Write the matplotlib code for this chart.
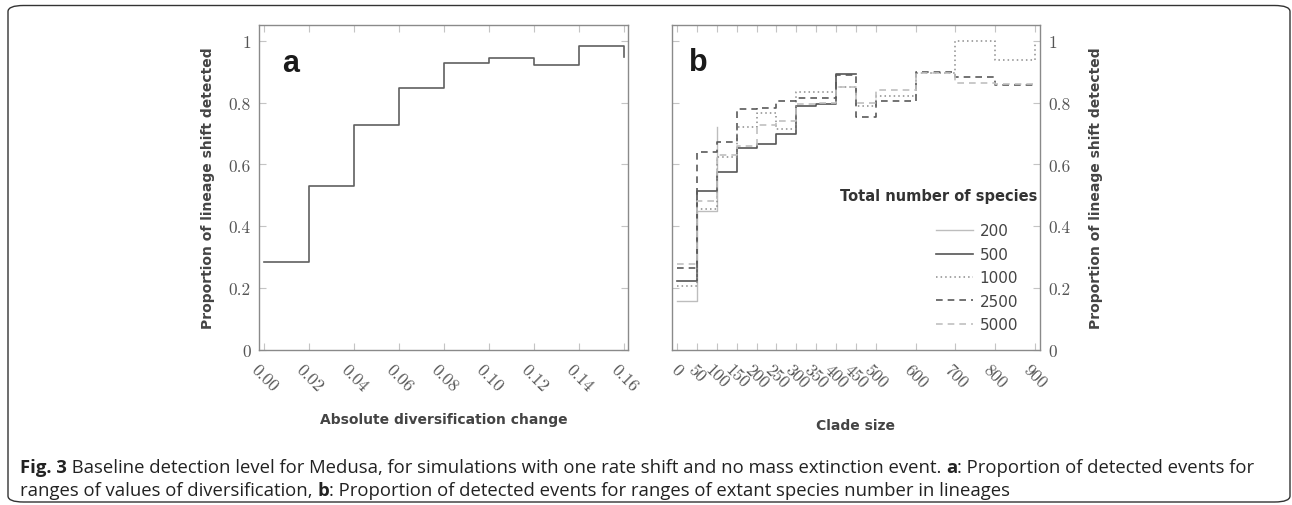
import matplotlib
matplotlib.use("Agg")
import matplotlib.pyplot as plt
from matplotlib.lines import Line2D
from matplotlib.patches import FancyBboxPatch

# panel a: detection vs absolute diversification change
diversification = [0.00, 0.02, 0.04, 0.06, 0.08, 0.10, 0.12, 0.14, 0.16]
detected_a = [0.283, 0.529, 0.728, 0.847, 0.929, 0.944, 0.922, 0.984, 0.948]
div_ticks = [0.00, 0.02, 0.04, 0.06, 0.08, 0.10, 0.12, 0.14, 0.16]
div_labels = ["0.00", "0.02", "0.04", "0.06", "0.08", "0.10", "0.12", "0.14", "0.16"]

# panel b: detection vs clade size, one series per total number of species
clade_edges = [0, 50, 100, 150, 200, 250, 300, 350, 400, 450, 500, 600, 700, 800, 900]
clade_labels = ["0", "50", "100", "150", "200", "250", "300", "350", "400", "450",
                "500", "600", "700", "800", "900"]
species_totals = ["200", "500", "1000", "2500", "5000"]
detected_200 = [0.157, 0.449, 0.72]
detected_500 = [0.223, 0.514, 0.577, 0.652, 0.667, 0.697, 0.790, 0.795, 0.892, 0.892]
detected_1000 = [0.206, 0.456, 0.623, 0.720, 0.766, 0.714, 0.833, 0.833, 0.849, 0.790,
                 0.822, 0.896, 1.000, 0.939, 0.990]
detected_2500 = [0.264, 0.641, 0.673, 0.780, 0.784, 0.806, 0.815, 0.815, 0.889, 0.752,
                 0.806, 0.898, 0.884, 0.858, 0.858]
detected_5000 = [0.278, 0.483, 0.630, 0.660, 0.727, 0.741, 0.795, 0.800, 0.850, 0.800,
                 0.842, 0.895, 0.865, 0.860, 0.860]

y_ticks = [0, 0.2, 0.4, 0.6, 0.8, 1.0]
y_labels = ["0", "0.2", "0.4", "0.6", "0.8", "1"]

W, H = 1292, 506
fig = plt.figure(figsize=(W / 100, H / 100), dpi=100)

def px_axes(x0, x1, y0, y1):
    return fig.add_axes([x0 / W, 1 - y1 / H, (x1 - x0) / W, (y1 - y0) / H])

tick_font = dict(family="cmr10", size=12.5, color="#555555")
label_font = dict(family="DejaVu Sans", weight="bold", size=10, color="#444444")

def style_axes(ax):
    for s in ax.spines.values():
        s.set_color("#8a8a8a")
        s.set_linewidth(1.0)
    ax.tick_params(direction="in", length=5, width=0.8, color="#c4c4c4",
                   top=True, bottom=True, left=True, right=True)
    ax.set_ylim(0, 1.052)
    ax.set_yticks(y_ticks)

# ---- panel a ----
ax_a = px_axes(259.3, 628, 25.7, 351)
style_axes(ax_a)
ax_a.step(diversification, detected_a, where="post", color="#606060", lw=1.2)
ax_a.set_xlim(-0.0022, 0.1617)
ax_a.set_xticks(div_ticks)
ax_a.set_xticklabels(div_labels, rotation=-45, ha="center", va="top", **tick_font)
ax_a.set_yticklabels(y_labels, **tick_font)
ax_a.tick_params(axis="x", pad=8)
ax_a.tick_params(axis="y", pad=6)
ax_a.set_xlabel("Absolute diversification change", labelpad=13, **label_font)
ax_a.set_ylabel("Proportion of lineage shift detected", labelpad=10, **label_font)
ax_a.text(0.086, 0.882, "a", transform=ax_a.transAxes, ha="center", va="center",
          family="Liberation Sans", weight="bold", size=22, color="#1a1a1a")

# ---- panel b ----
ax_b = px_axes(671.7, 1040, 25.7, 351)
style_axes(ax_b)
series = [detected_200, detected_500, detected_1000, detected_2500, detected_5000]
styles = [
    dict(color="#bdbdbd", lw=1.0, ls="-"),
    dict(color="#555555", lw=1.2, ls="-"),
    dict(color="#8c8c8c", lw=1.1, ls=(0, (1, 2))),
    dict(color="#5a5a5a", lw=1.2, ls=(0, (4, 3))),
    dict(color="#c0c0c0", lw=1.2, ls=(0, (4, 3))),
]
handles = []
for name, vals, st in zip(species_totals, series, styles):
    ax_b.step(clade_edges[:len(vals)], vals, where="post", **st)
    handles.append(Line2D([], [], **st, label=name))
ax_b.set_xlim(-13.3, 912.6)
ax_b.set_xticks(clade_edges)
ax_b.set_xticklabels(clade_labels, rotation=-45, ha="center", va="top", **tick_font)
ax_b.tick_params(labelleft=False, labelright=True)
ax_b.set_yticklabels(y_labels, **tick_font)
ax_b.tick_params(axis="x", pad=8)
ax_b.tick_params(axis="y", pad=6)
ax_b.yaxis.set_label_position("right")
ax_b.set_xlabel("Clade size", labelpad=20, **label_font)
ax_b.set_ylabel("Proportion of lineage shift detected", labelpad=13, rotation=90, **label_font)
ax_b.text(0.071, 0.885, "b", transform=ax_b.transAxes, ha="center", va="center",
          family="Liberation Sans", weight="bold", size=22, color="#1a1a1a")
ax_b.text(0.993, 0.475, "Total number of species", transform=ax_b.transAxes,
          ha="right", va="center", family="DejaVu Sans", weight="bold", size=10.5,
          color="#333333")
leg = ax_b.legend(handles=handles, loc="lower right", bbox_to_anchor=(0.94, 0.055),
                  frameon=False, handlelength=2.4, handletextpad=0.45,
                  labelspacing=0.55, prop=dict(family="DejaVu Sans", size=11),
                  borderaxespad=0.0, borderpad=0.0)
for t in leg.get_texts():
    t.set_color("#444444")

# ---- caption ----
renderer = fig.canvas.get_renderer()

def caption_line(parts, x_px, y_px):
    x = x_px / W
    for s, bold in parts:
        t = fig.text(x, 1 - y_px / H, s, family="Open Sans", size=13.3,
                     weight="bold" if bold else "normal", color="#222222",
                     va="center", ha="left")
        x += t.get_window_extent(renderer).width / W

caption_line([("Fig. 3", True),
              (" Baseline detection level for Medusa, for simulations with one rate shift "
               "and no mass extinction event. ", False),
              ("a", True), (": Proportion of detected events for", False)], 20, 468)
caption_line([("ranges of values of diversification, ", False), ("b", True),
              (": Proportion of detected events for ranges of extant species number in lineages",
               False)], 20, 491)

border = FancyBboxPatch((8 / W, 1 - 503 / H), (1290 - 8) / W, (503 - 6.5) / H,
                        boxstyle="round,pad=0,rounding_size=0.012",
                        transform=fig.transFigure, fill=False, ec="#333333", lw=1.0)
fig.patches.append(border)

fig.savefig("out.png", dpi=100)
